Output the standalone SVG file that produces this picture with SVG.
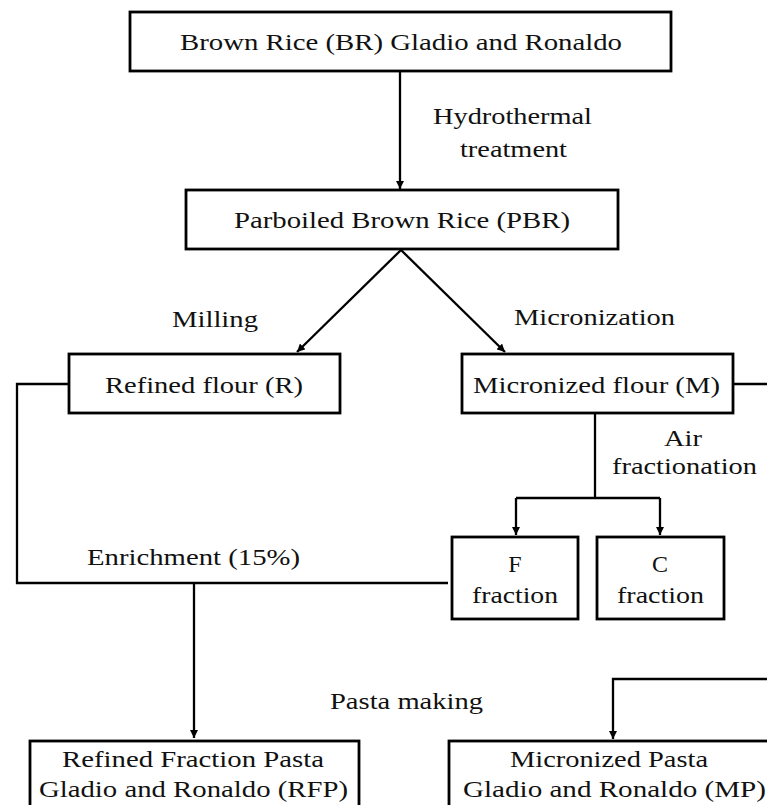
<svg xmlns="http://www.w3.org/2000/svg" width="767" height="805" viewBox="0 0 767 805">
<style>
.box{fill:#fff;stroke:#000;stroke-width:2.8}
.t{font-family:"Liberation Serif","Times New Roman",serif;font-size:24px;fill:#111}
.ln{fill:none;stroke:#000;stroke-width:2.3}
</style>
<defs>
<marker id="ah" viewBox="0 0 10 10" refX="10" refY="5" markerWidth="8" markerHeight="8" markerUnits="userSpaceOnUse" orient="auto">
<path d="M0,0 L10,5 L0,10 z" fill="#000"/>
</marker>
</defs>
<rect width="767" height="805" fill="#fff"/>
<g id="connectors">
<line class="ln" x1="400" y1="71" x2="400" y2="189" marker-end="url(#ah)"/>
<line class="ln" x1="401" y1="250" x2="297" y2="352" marker-end="url(#ah)"/>
<line class="ln" x1="401" y1="250" x2="505" y2="352" marker-end="url(#ah)"/>
<path class="ln" d="M69,384 H17 V583 H448"/>
<path class="ln" d="M194,583 V738" marker-end="url(#ah)"/>
<path class="ln" d="M733,384 H767"/>
<path class="ln" d="M595,413 V498"/>
<path class="ln" d="M516,498 H660"/>
<path class="ln" d="M516,498 V535" marker-end="url(#ah)"/>
<path class="ln" d="M660,498 V535" marker-end="url(#ah)"/>
<path class="ln" d="M767,679 H613 V739" marker-end="url(#ah)"/>
</g>
<g id="labels">
<text class="t" x="433" y="124" textLength="159" lengthAdjust="spacingAndGlyphs">Hydrothermal</text>
<text class="t" x="460" y="157" textLength="107" lengthAdjust="spacingAndGlyphs">treatment</text>
<text class="t" x="172" y="327" textLength="86" lengthAdjust="spacingAndGlyphs">Milling</text>
<text class="t" x="514" y="325" textLength="161" lengthAdjust="spacingAndGlyphs">Micronization</text>
<text class="t" x="664" y="446" textLength="38" lengthAdjust="spacingAndGlyphs">Air</text>
<text class="t" x="612" y="474" textLength="145" lengthAdjust="spacingAndGlyphs">fractionation</text>
<text class="t" x="87" y="565" textLength="213" lengthAdjust="spacingAndGlyphs">Enrichment (15%)</text>
<text class="t" x="330" y="709" textLength="153" lengthAdjust="spacingAndGlyphs">Pasta making</text>
</g>
<g id="node-br">
<rect class="box" x="130" y="12" width="541" height="59"/>
<text class="t" x="180" y="50" textLength="442" lengthAdjust="spacingAndGlyphs">Brown Rice (BR) Gladio and Ronaldo</text>
</g>
<g id="node-pbr">
<rect class="box" x="186" y="190" width="432" height="59"/>
<text class="t" x="234" y="228" textLength="336" lengthAdjust="spacingAndGlyphs">Parboiled Brown Rice (PBR)</text>
</g>
<g id="node-r">
<rect class="box" x="69" y="354" width="271" height="59"/>
<text class="t" x="105" y="393" textLength="198" lengthAdjust="spacingAndGlyphs">Refined flour (R)</text>
</g>
<g id="node-m">
<rect class="box" x="462" y="354" width="271" height="59"/>
<text class="t" x="473" y="393" textLength="247" lengthAdjust="spacingAndGlyphs">Micronized flour (M)</text>
</g>
<g id="node-f">
<rect class="box" x="452" y="537" width="126" height="82"/>
<text class="t" x="515" y="572" text-anchor="middle">F</text>
<text class="t" x="472" y="603" textLength="86" lengthAdjust="spacingAndGlyphs">fraction</text>
</g>
<g id="node-c">
<rect class="box" x="597" y="537" width="127" height="82"/>
<text class="t" x="660" y="572" text-anchor="middle">C</text>
<text class="t" x="617" y="603" textLength="87" lengthAdjust="spacingAndGlyphs">fraction</text>
</g>
<g id="node-rfp">
<rect class="box" x="30" y="741" width="329" height="70"/>
<text class="t" x="62" y="767" textLength="262" lengthAdjust="spacingAndGlyphs">Refined Fraction Pasta</text>
<text class="t" x="39" y="797" textLength="309" lengthAdjust="spacingAndGlyphs">Gladio and Ronaldo (RFP)</text>
</g>
<g id="node-mp">
<rect class="box" x="449" y="741" width="340" height="70"/>
<text class="t" x="510" y="767" textLength="198" lengthAdjust="spacingAndGlyphs">Micronized Pasta</text>
<text class="t" x="463" y="797" textLength="303" lengthAdjust="spacingAndGlyphs">Gladio and Ronaldo (MP)</text>
</g>
</svg>
